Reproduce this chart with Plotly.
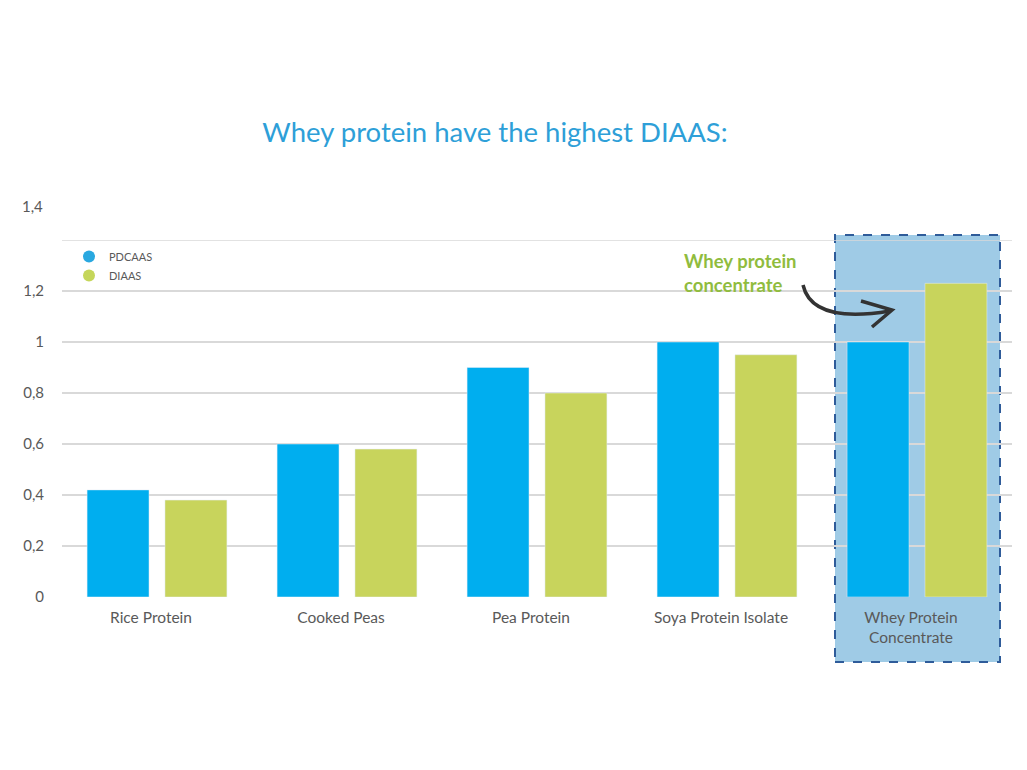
import plotly.graph_objects as go

categories = ["Rice Protein", "Cooked Peas", "Pea Protein", "Soya Protein Isolate", "Whey Protein<br>Concentrate"]
pdcaas = [0.42, 0.60, 0.90, 1.00, 1.00]
diaas = [0.38, 0.58, 0.80, 0.95, 1.23]
tick_vals = [0, 0.2, 0.4, 0.6, 0.8, 1.0, 1.2]
tick_text = ["0", "0,2", "0,4", "0,6", "0,8", "1", "1,2"]

BLUE = "#00AEEF"
GREEN = "#C8D45C"
GRAY = "#595959"
FONT = "Lato"

L, R, T, B = 62, 15, 240, 173
W, H = 1027, 770
pw, ph = W - L - R, H - T - B

def px(x):
    return (x - L) / pw

def py(y):
    return (H - B - y) / ph

fig = go.Figure()
fig.add_trace(go.Bar(x=categories, y=pdcaas, name="PDCAAS", marker_color=BLUE, showlegend=False))
fig.add_trace(go.Bar(x=categories, y=diaas, name="DIAAS", marker_color=GREEN, showlegend=False))
fig.add_trace(go.Scatter(x=[None], y=[None], mode="markers", name="PDCAAS",
                         marker=dict(symbol="circle", size=14, color="#29A8E0")))
fig.add_trace(go.Scatter(x=[None], y=[None], mode="markers", name="DIAAS",
                         marker=dict(symbol="circle", size=14, color="#C5D65A")))

shapes = [
    dict(type="rect", xref="paper", yref="paper", x0=px(835), x1=px(1000), y0=py(662), y1=py(235),
         fillcolor="#9FCBE6", line=dict(color="#2F5C9A", width=2, dash="dash"), layer="below"),
    dict(type="path", xref="paper", yref="paper",
         path=f"M {px(803)} {py(285)} Q {px(812)} {py(324)} {px(890)} {py(311)}",
         line=dict(color="#333333", width=3.5)),
    dict(type="path", xref="paper", yref="paper",
         path=f"M {px(861)} {py(301)} L {px(892)} {py(310)} L {px(872)} {py(327)}",
         line=dict(color="#333333", width=3.5)),
]

annotations = [
    dict(text="1,4", xref="paper", yref="paper", x=px(45), y=py(206), xanchor="right", yanchor="middle",
         showarrow=False, font=dict(family=FONT, size=15, color=GRAY)),
    dict(text="<b>Whey protein<br>concentrate</b>", xref="paper", yref="paper", x=px(682), y=py(273),
         xanchor="left", yanchor="middle", align="left", showarrow=False,
         font=dict(family=FONT, size=18.5, color="#90BC3E")),
]

fig.update_layout(
    width=W, height=H,
    margin=dict(l=L, r=R, t=T, b=B),
    paper_bgcolor="white", plot_bgcolor="rgba(0,0,0,0)",
    title=dict(text="Whey protein have the highest DIAAS:", x=495 / W, xanchor="center",
               y=1 - 132 / H, yanchor="middle", xref="container",
               font=dict(family=FONT, size=27.5, color="#2E9FD8")),
    barmode="group", bargap=0.18, bargroupgap=0.205,
    font=dict(family=FONT, color=GRAY),
    shapes=shapes, annotations=annotations,
    legend=dict(x=px(69), y=py(242), xanchor="left", yanchor="top", bgcolor="rgba(0,0,0,0)",
                font=dict(family=FONT, size=11, color=GRAY), itemsizing="constant", tracegroupgap=0),
    xaxis=dict(showgrid=False, showline=False, ticks="", tickfont=dict(family=FONT, size=15.5, color=GRAY),
               ticklabelstandoff=9, ticklabelshift=-6),
    yaxis=dict(range=[0, 1.4], tickvals=tick_vals, ticktext=tick_text, showgrid=True,
               gridcolor="#D9D9D9", gridwidth=1.5, zeroline=False, showline=False,
               tickfont=dict(family=FONT, size=15, color=GRAY), ticklabelstandoff=17),
)
# top gridline at 1.4
fig.add_hline(y=1.4, line=dict(color="#D9D9D9", width=1.5), layer="below")

fig.write_html("out.html", config={"displayModeBar": False},
               post_script="document.body.style.margin='0';")
